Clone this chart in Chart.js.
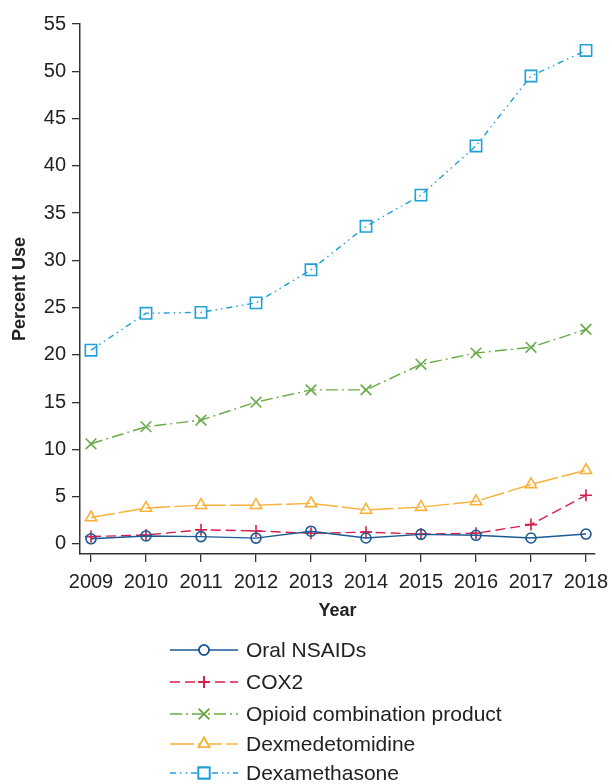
<!DOCTYPE html>
<html>
<head>
<meta charset="utf-8">
<script src="https://cdn.jsdelivr.net/npm/chart.js@4/dist/chart.umd.min.js"></script>
<style>
  html, body { margin: 0; padding: 0; background: #fff; }
  #wrap { width: 612px; height: 784px; }
</style>
</head>
<body>
<div id="wrap"><canvas id="chart" width="612" height="784"></canvas></div>
<script>
const years = [2009, 2010, 2011, 2012, 2013, 2014, 2015, 2016, 2017, 2018];
const oralNsaids = [0.55, 0.85, 0.78, 0.62, 1.35, 0.63, 1.02, 0.92, 0.63, 1.05];
const cox2 = [0.78, 0.95, 1.5, 1.38, 1.13, 1.25, 1.05, 1.13, 2.05, 5.15];
const opioidCombo = [10.6, 12.4, 13.1, 15.0, 16.3, 16.3, 19.0, 20.2, 20.8, 22.7];
const dexmedetomidine = [2.8, 3.8, 4.1, 4.1, 4.3, 3.6, 3.9, 4.5, 6.3, 7.8];
const dexamethasone = [20.5, 24.4, 24.5, 25.5, 29.0, 33.6, 36.9, 42.1, 49.5, 52.2];
const yTicks = [0, 5, 10, 15, 20, 25, 30, 35, 40, 45, 50, 55];

const font = "'Liberation Sans', Arial, Helvetica, sans-serif";
const ink = '#222';

function series(label, values, color, dash, style, radius) {
  return {
    label: label,
    data: years.map((y, i) => ({ x: y, y: values[i] })),
    borderColor: color,
    borderWidth: 1.4,
    borderDash: dash,
    pointStyle: style,
    pointRadius: radius,
    pointBorderColor: color,
    pointBackgroundColor: 'rgba(0,0,0,0)',
    pointBorderWidth: 1.6,
    fill: false,
    tension: 0
  };
}

const datasets = [
  series('Oral NSAIDs', oralNsaids, '#1b5a95', [], 'circle', 5),
  series('COX2', cox2, '#d61f4b', [10, 5], 'cross', 6),
  series('Opioid combination product', opioidCombo, '#6aaa48', [12, 4, 2, 4], 'crossRot', 7.5),
  series('Dexmedetomidine', dexmedetomidine, '#f9b13a', [24, 4], 'triangle', 6.5),
  series('Dexamethasone', dexamethasone, '#20a0d8', [6, 4, 1.5, 4, 1.5, 4], 'rect', 8)
];

// legend drawn below the axes: line - marker - line, then text
const lineLegend = {
  id: 'lineLegend',
  afterDraw(chart) {
    const ctx = chart.ctx;
    const ys = [650, 682, 714, 744, 773];
    chart.data.datasets.forEach((ds, i) => {
      const y = ys[i];
      ctx.save();
      ctx.strokeStyle = ds.borderColor;
      ctx.lineWidth = ds.borderWidth;
      ctx.setLineDash(ds.borderDash);
      ctx.beginPath();
      ctx.moveTo(170, y);
      ctx.lineTo(238, y);
      ctx.stroke();
      ctx.setLineDash([]);
      ctx.lineWidth = ds.pointBorderWidth;
      ctx.fillStyle = '#fff';
      Chart.helpers.drawPoint(ctx, {
        pointStyle: ds.pointStyle,
        radius: ds.pointRadius,
        borderWidth: ds.pointBorderWidth,
        rotation: 0
      }, 204, y);
      ctx.strokeStyle = ds.borderColor;
      ctx.stroke();
      ctx.fillStyle = ink;
      ctx.font = '21px ' + font;
      ctx.textBaseline = 'middle';
      ctx.textAlign = 'left';
      ctx.fillText(ds.label, 246, y + 1);
      ctx.restore();
    });
  }
};

const config = {
  type: 'line',
  data: { datasets: datasets },
  options: {
    responsive: false,
    animation: false,
    layout: { padding: { top: 24, right: 17, bottom: 160, left: 0 } },
    plugins: {
      legend: { display: false },
      tooltip: { enabled: false }
    },
    scales: {
      x: {
        type: 'linear',
        min: 2008.8,
        max: 2018.164,
        afterBuildTicks: s => { s.ticks = years.map(v => ({ value: v })); },
        afterFit: s => { s.height = 70; s.paddingLeft = 0; s.paddingRight = 0; },
        grid: { drawOnChartArea: false, drawTicks: true, tickLength: 8, color: '#333', lineWidth: 1.3 },
        border: { color: '#333', width: 1.5 },
        ticks: { color: ink, font: { family: font, size: 20 }, padding: 8, maxRotation: 0, autoSkip: false, callback: v => String(v) },
        title: { display: true, text: 'Year', color: ink, font: { family: font, size: 18, weight: 'bold', lineHeight: 1.2 }, padding: { top: 0, bottom: 2 } }
      },
      y: {
        min: -1.06,
        max: 55,
        afterBuildTicks: s => { s.ticks = yTicks.map(v => ({ value: v })); },
        afterFit: s => { s.width = 80; s.paddingTop = 0; s.paddingBottom = 0; },
        grid: { drawOnChartArea: false, drawTicks: true, tickLength: 8, color: '#333', lineWidth: 1.3 },
        border: { color: '#333', width: 1.5 },
        ticks: { color: ink, font: { family: font, size: 20 }, padding: 6 },
        title: { display: true, text: 'Percent Use', color: ink, font: { family: font, size: 18, weight: 'bold', lineHeight: 1.2 }, padding: { top: 9, bottom: 0 } }
      }
    }
  },
  plugins: [lineLegend]
};

const ctx = document.getElementById('chart').getContext('2d');
const chart = new Chart(ctx, config);
</script>
</body>
</html>
